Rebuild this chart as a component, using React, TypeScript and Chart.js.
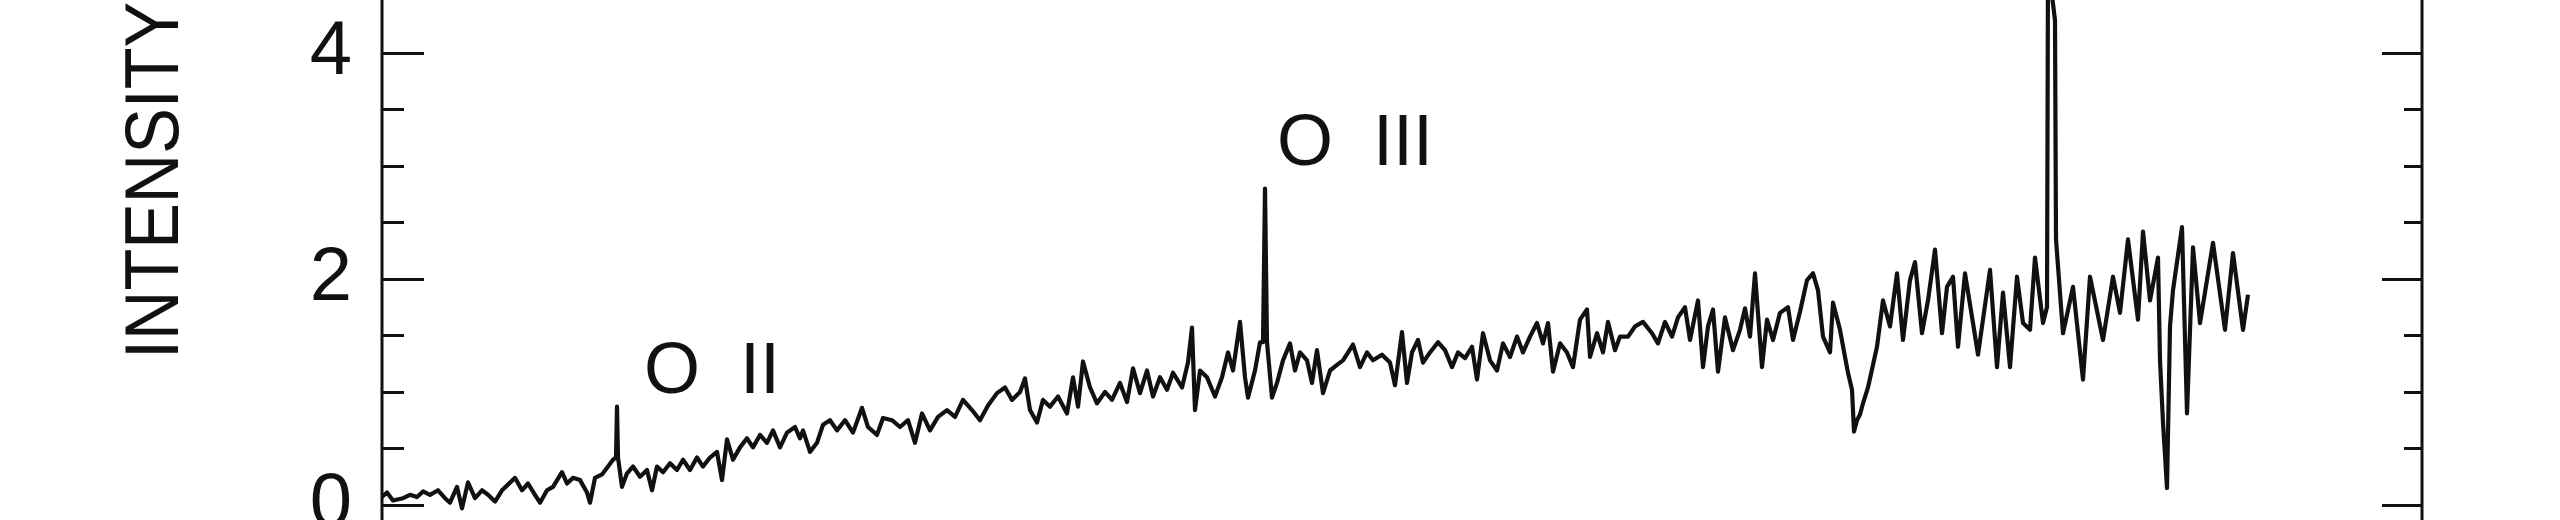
import React, { useEffect, useRef } from "react";
import { Chart, registerables } from "chart.js";

Chart.register(...registerables);

// Spectrum: [channel, intensity]
const segmentA: [number, number][] = [
  [0, 0.07], [5, 0.11], [11, 0.04], [21, 0.06], [28, 0.09], [35, 0.07], [41, 0.12], [48, 0.09],
  [56, 0.13], [63, 0.06], [68, 0.02], [75, 0.16], [80, -0.03], [86, 0.2], [93, 0.06], [100, 0.13],
  [106, 0.09], [113, 0.03], [120, 0.13], [126, 0.18], [133, 0.24], [140, 0.13], [146, 0.19],
  [153, 0.09], [158, 0.02], [165, 0.13], [171, 0.16], [180, 0.29], [185, 0.19], [191, 0.24],
  [198, 0.22], [205, 0.11], [208, 0.02], [213, 0.24], [220, 0.27], [226, 0.34], [231, 0.4],
  [234, 0.42], [235, 0.87], [236, 0.42], [240, 0.16], [245, 0.28], [251, 0.34], [258, 0.25],
  [265, 0.31], [270, 0.13], [275, 0.34], [281, 0.29], [288, 0.37], [295, 0.31], [301, 0.4],
  [308, 0.31], [315, 0.42], [321, 0.34], [328, 0.42], [335, 0.47], [340, 0.22], [345, 0.58],
  [351, 0.4], [358, 0.51], [365, 0.59], [371, 0.51], [378, 0.62], [385, 0.55], [391, 0.66],
  [398, 0.51], [405, 0.64], [413, 0.69], [418, 0.59],
];

const segmentB: [number, number][] = [
  [421, 0.66], [428, 0.47], [435, 0.55], [441, 0.71], [448, 0.75], [455, 0.66], [463, 0.75],
  [471, 0.64], [480, 0.86], [486, 0.69], [495, 0.62], [501, 0.77], [510, 0.75], [518, 0.69],
  [526, 0.75], [533, 0.55], [540, 0.81], [548, 0.66], [556, 0.78], [565, 0.84], [573, 0.78],
  [581, 0.93], [590, 0.84], [598, 0.75], [606, 0.88], [615, 0.99], [623, 1.04], [630, 0.93],
  [638, 1.0], [643, 1.12], [648, 0.84], [655, 0.73], [661, 0.93], [668, 0.87], [676, 0.96],
  [685, 0.81], [691, 1.13], [696, 0.87], [701, 1.27], [708, 1.04], [715, 0.9], [723, 1.0],
  [730, 0.93], [738, 1.08], [745, 0.91], [751, 1.21], [758, 0.99], [765, 1.19], [771, 0.96],
  [778, 1.13], [785, 1.02], [791, 1.17], [800, 1.04], [806, 1.26], [810, 1.57], [813, 0.84],
  [818, 1.19],
];

const segmentC: [number, number][] = [
  [825, 1.13], [833, 0.96], [840, 1.13], [846, 1.35], [851, 1.19], [858, 1.62], [863, 1.13],
  [866, 0.95], [873, 1.19], [878, 1.44], [881, 1.44], [883, 2.8], [885, 1.44], [890, 0.95],
  [895, 1.08], [901, 1.28], [908, 1.43], [913, 1.19], [918, 1.35], [925, 1.28], [930, 1.08],
  [935, 1.37], [941, 0.99], [948, 1.19], [955, 1.24], [961, 1.28], [971, 1.42], [978, 1.22],
  [985, 1.35], [991, 1.28], [1000, 1.33], [1008, 1.26], [1013, 1.06], [1020, 1.53], [1025, 1.08],
  [1030, 1.35], [1036, 1.46], [1041, 1.26], [1048, 1.35], [1056, 1.44], [1063, 1.37], [1070, 1.22],
  [1076, 1.35], [1083, 1.3], [1090, 1.4], [1095, 1.11], [1101, 1.52], [1108, 1.28], [1115, 1.19],
  [1121, 1.43], [1128, 1.31], [1135, 1.49], [1141, 1.35], [1148, 1.49], [1155, 1.61], [1161, 1.43],
  [1166, 1.61], [1171, 1.18], [1178, 1.43], [1185, 1.35], [1191, 1.22], [1198, 1.64], [1205, 1.73],
  [1208, 1.31], [1215, 1.52], [1221, 1.35], [1226, 1.62], [1233, 1.37], [1238, 1.49],
];

const segmentD: [number, number][] = [
  [1246, 1.49], [1253, 1.58], [1261, 1.62], [1270, 1.52], [1276, 1.43], [1283, 1.62], [1290, 1.49],
  [1296, 1.66], [1303, 1.75], [1308, 1.46], [1316, 1.81], [1321, 1.22], [1326, 1.58], [1331, 1.73],
  [1336, 1.18], [1343, 1.66], [1351, 1.37], [1358, 1.55], [1363, 1.74], [1368, 1.49], [1373, 2.05],
  [1380, 1.22], [1385, 1.64], [1391, 1.46], [1398, 1.7], [1406, 1.75], [1411, 1.46], [1418, 1.71],
  [1425, 1.99], [1431, 2.05], [1436, 1.9], [1441, 1.49], [1448, 1.35], [1451, 1.79], [1458, 1.55],
  [1463, 1.31], [1466, 1.17], [1470, 1.02], [1472, 0.65], [1475, 0.75], [1478, 0.8], [1481, 0.9],
  [1486, 1.04], [1495, 1.4], [1501, 1.81], [1508, 1.58], [1515, 2.05], [1521, 1.46], [1528, 1.99],
  [1533, 2.15], [1540, 1.52], [1546, 1.81], [1553, 2.26], [1560, 1.52], [1565, 1.93], [1571, 2.02],
  [1576, 1.4], [1583, 2.05], [1591, 1.61], [1596, 1.33], [1608, 2.08], [1615, 1.22], [1621, 1.88],
  [1628, 1.22], [1635, 2.02], [1641, 1.61],
];

const segmentE: [number, number][] = [
  [1648, 1.55], [1653, 2.19], [1661, 1.61], [1665, 1.75], [1666, 4.8], [1673, 4.29], [1674, 2.35],
  [1681, 1.52], [1691, 1.93], [1701, 1.11], [1708, 2.02], [1721, 1.46], [1731, 2.02], [1738, 1.7],
  [1746, 2.35], [1756, 1.64], [1761, 2.42], [1768, 1.81], [1776, 2.19], [1778, 1.28], [1781, 0.73],
  [1785, 0.15], [1788, 1.58], [1791, 1.9], [1800, 2.46], [1805, 0.81], [1811, 2.28], [1818, 1.61],
  [1831, 2.32], [1843, 1.55], [1851, 2.23], [1861, 1.55], [1866, 1.86],
];

const yTickLabels = [0, 2, 4];
const lineLabels = ["O  II", "O  III"];
const lineLabelChannel = [262, 895];
const lineLabelIntensity = [0.99, 3.01];
const axisTitle = "INTENSITY";

const INK = "#111111";
const FONT = '"Liberation Sans", Arial, sans-serif';

export default function App() {
  const ref = useRef<HTMLCanvasElement | null>(null);

  useEffect(() => {
    document.body.style.margin = "0";
    document.body.style.background = "#ffffff";
    const canvas = ref.current;
    if (!canvas) return;

    const points = [...segmentA, ...segmentB, ...segmentC, ...segmentD, ...segmentE].map(
      ([x, y]) => ({ x, y })
    );

    const framePlugin = {
      id: "frame",
      afterDatasetsDraw(chart: any) {
        const { ctx, chartArea } = chart;
        const ys = chart.scales.y;
        const xs = chart.scales.x;
        ctx.save();
        ctx.strokeStyle = INK;
        ctx.lineWidth = 3;
        ctx.lineCap = "butt";
        // side frame lines
        ctx.beginPath();
        ctx.moveTo(chartArea.left, 0);
        ctx.lineTo(chartArea.left, chart.height);
        ctx.moveTo(chartArea.right, 0);
        ctx.lineTo(chartArea.right, chart.height);
        ctx.stroke();
        // inward ticks on both sides
        ctx.beginPath();
        for (const t of ys.ticks) {
          const py = Math.round(ys.getPixelForValue(t.value)) + 0.5;
          const major = Math.abs(t.value % 2) < 1e-6;
          ctx.moveTo(chartArea.left, py);
          ctx.lineTo(chartArea.left + (major ? 42 : 22), py);
          ctx.moveTo(chartArea.right, py);
          ctx.lineTo(chartArea.right - (major ? 40 : 18), py);
        }
        ctx.stroke();
        // line identifications
        ctx.fillStyle = INK;
        ctx.font = `72px ${FONT}`;
        ctx.textAlign = "left";
        ctx.textBaseline = "alphabetic";
        lineLabels.forEach((txt, i) => {
          ctx.fillText(
            txt,
            xs.getPixelForValue(lineLabelChannel[i]),
            ys.getPixelForValue(lineLabelIntensity[i])
          );
        });
        // rotated axis title
        ctx.save();
        ctx.translate(chartArea.left - 204, 359);
        ctx.rotate(-Math.PI / 2);
        ctx.scale(0.9, 1);
        ctx.font = `76px ${FONT}`;
        ctx.fillText(axisTitle, 0, 0);
        ctx.restore();
        ctx.restore();
      },
    };

    const chart = new Chart(canvas, {
      type: "line",
      data: {
        datasets: [
          {
            data: points,
            borderColor: INK,
            borderWidth: 4.2,
            borderJoinStyle: "round",
            pointRadius: 0,
            tension: 0,
            fill: false,
          },
        ],
      },
      options: {
        responsive: false,
        maintainAspectRatio: false,
        animation: false,
        events: [],
        layout: { padding: { left: 0, right: 138, top: 0, bottom: 0 } },
        plugins: {
          legend: { display: false },
          tooltip: { enabled: false },
          title: { display: false },
        },
        scales: {
          x: { type: "linear", min: 0, max: 2040, display: false },
          y: {
            type: "linear",
            min: -0.133,
            max: 4.469,
            afterFit: (s: any) => {
              s.width = 382;
              s.paddingTop = 0;
              s.paddingBottom = 0;
            },
            grid: { display: false, drawTicks: false },
            border: { display: false },
            ticks: {
              stepSize: 0.5,
              autoSkip: false,
              includeBounds: false,
              padding: 30,
              color: INK,
              font: { family: FONT, size: 76 },
              callback: (v: any) => (yTickLabels.includes(Number(v)) ? String(v) : ""),
            },
          },
        },
      },
      plugins: [framePlugin],
    });

    return () => chart.destroy();
  }, []);

  return (
    <canvas
      ref={ref}
      width={2560}
      height={520}
      style={{ display: "block", width: "2560px", height: "520px" }}
    />
  );
}
